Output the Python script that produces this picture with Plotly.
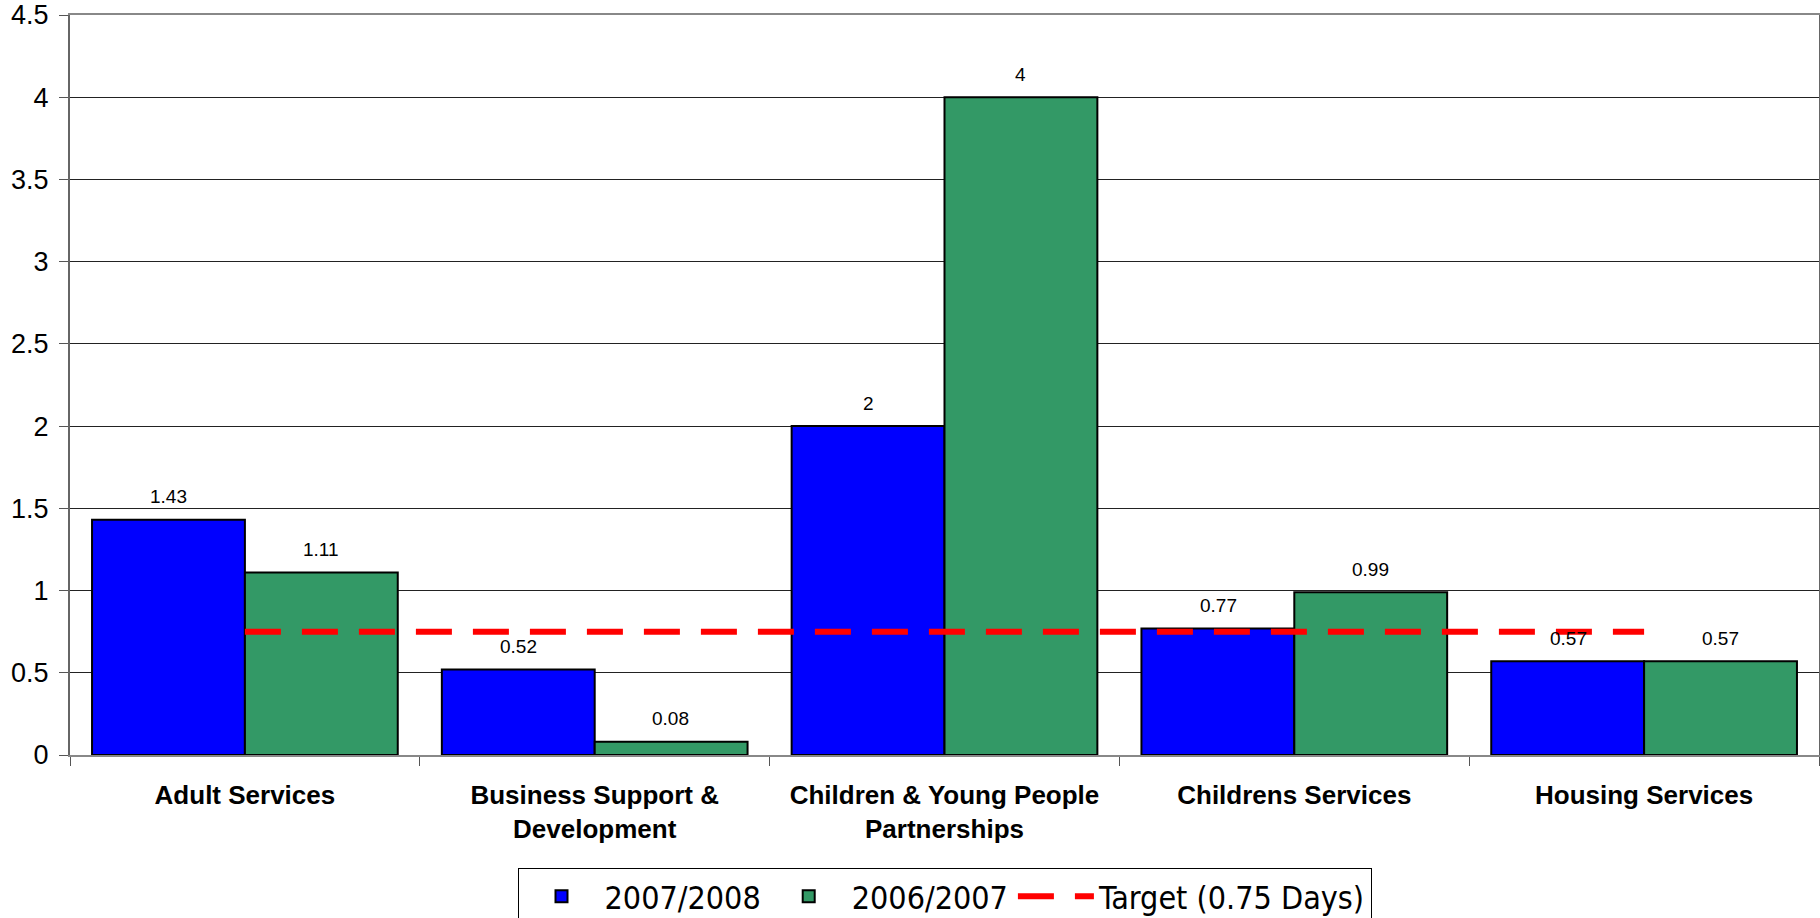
import plotly.graph_objects as go

categories = ["Adult Services", "Business Support &<br>Development",
              "Children & Young People<br>Partnerships", "Childrens Services",
              "Housing Services"]
series_2007_2008 = [1.43, 0.52, 2, 0.77, 0.57]
series_2006_2007 = [1.11, 0.08, 4, 0.99, 0.57]
target = [0.75, 0.75, 0.75, 0.75, 0.75]
y_ticks = [0, 0.5, 1, 1.5, 2, 2.5, 3, 3.5, 4, 4.5]

FONT = "Liberation Sans, Arial, sans-serif"

fig = go.Figure()
fig.add_trace(go.Bar(
    name="2007/2008", x=categories, y=series_2007_2008,
    marker=dict(color="#0000FF", line=dict(color="#000000", width=2)),
))
fig.add_trace(go.Bar(
    name="2006/2007", x=categories, y=series_2006_2007,
    marker=dict(color="#339966", line=dict(color="#000000", width=2)),
))
fig.add_trace(go.Scatter(
    name="Target (0.75 Days)", x=categories, y=target, mode="lines",
    line=dict(color="#FF0000", width=6, dash="36px,21px"),
))

annotations = []
for series, shift in ((series_2007_2008, -76), (series_2006_2007, 76)):
    for cat, v in zip(categories, series):
        annotations.append(dict(
            x=cat, y=v, xref="x", yref="y", text=f"{v:g}", showarrow=False,
            xshift=shift, yshift=23, yanchor="middle",
            font=dict(family=FONT, size=19, color="#000000"),
        ))

fig.update_layout(
    width=1820, height=918,
    margin=dict(l=70, r=1, t=15, b=163, autoexpand=False),
    paper_bgcolor="white", plot_bgcolor="white",
    barmode="group", bargap=0.126, bargroupgap=0,
    annotations=annotations,
    showlegend=True,
    legend=dict(
        orientation="h", x=0.5, xanchor="center",
        yref="container", y=(918 - 868) / 918, yanchor="top",
        font=dict(family="DejaVu Sans Condensed, " + FONT, size=32, color="#000"),
        bordercolor="#000000", borderwidth=1, bgcolor="white",
        itemwidth=76, traceorder="normal",
    ),
    xaxis=dict(
        showline=True, linecolor="#888888", linewidth=2, mirror=True,
        ticks="outside", tickson="boundaries", ticklen=9, tickcolor="#555555",
        tickfont=dict(family=FONT, size=26, color="#000000", weight="bold"),
        ticklabelstandoff=16, showgrid=False,
    ),
    yaxis=dict(
        range=[0, 4.5], tickvals=y_ticks,
        showline=True, linecolor="#666666", linewidth=2, mirror=True,
        ticks="outside", ticklen=9, tickcolor="#555555",
        tickfont=dict(family=FONT, size=27, color="#000000"),
        ticklabelstandoff=5,
        showgrid=True, gridcolor="#222222", gridwidth=1, zeroline=False,
    ),
)

fig.write_html("out.html")
